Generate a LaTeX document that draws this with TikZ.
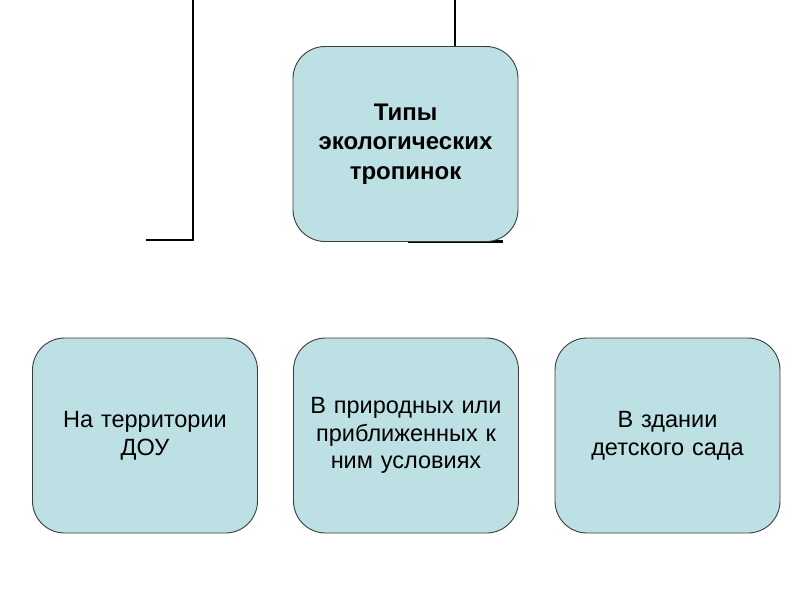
\documentclass[tikz,border=0pt]{standalone}
\usepackage{fontspec}
\setmainfont{Liberation Sans}
\usepackage{xcolor}
\definecolor{paleteal}{HTML}{BCE0E3}
\definecolor{boxline}{HTML}{3C3C3C}
\tikzset{
  typebox/.style={draw=boxline,line width=0.9pt,fill=paleteal,rounded corners=32pt,
    minimum width=225pt,minimum height=195pt,align=center,text width=215pt,
    font=\fontsize{23.5}{27.5}\selectfont},
  titlebox/.style={typebox,font=\bfseries\fontsize{24}{29.5}\selectfont},
  frameline/.style={line width=2.2pt,black}
}
\begin{document}
\begin{tikzpicture}[x=1pt,y=-1pt]
\useasboundingbox (0,0) rectangle (800,600);

% bracket lines behind the boxes
\coordinate (lt) at (193,0);
\coordinate (lb) at (193,240);
\coordinate (le) at (146,240);
\coordinate (rt) at (455,0);
\coordinate (rb) at (455,47);
\coordinate (hs) at (408,241.5);
\coordinate (he) at (503,241.5);
\draw[frameline] (lt)--(lb)--(le);
\draw[frameline] (rt)--(rb);
\draw[frameline] (hs)--(he);

\node[titlebox] (types) at (405.5,144) {Типы\\экологических\\тропинок};

\node[typebox] (dou) at (145,435.5) {На территории\\ДОУ};
\node[typebox] (nature) at (406,435.5) {В природных или\\приближенных к\\ним условиях};
\node[typebox] (inside) at (667.5,435.5) {В здании\\детского сада};
\end{tikzpicture}
\end{document}
